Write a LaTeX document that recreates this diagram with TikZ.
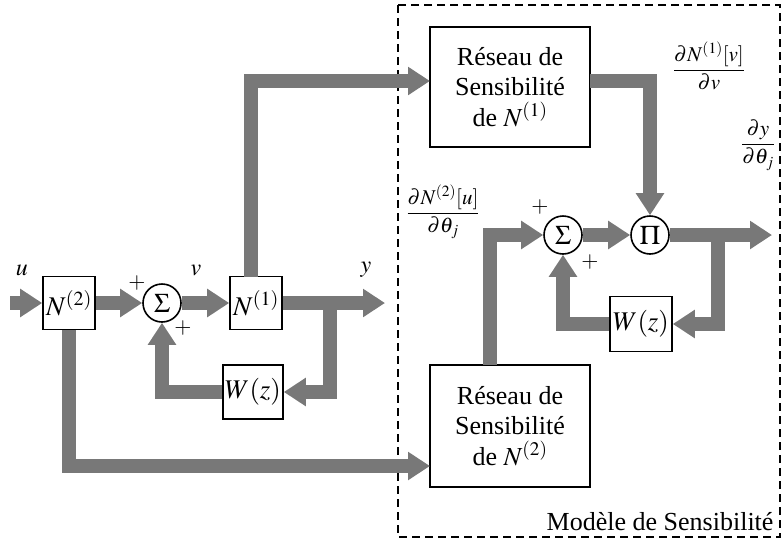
\documentclass[tikz,border=0pt]{standalone}
\usepackage{mathptmx}
\usepackage[no-math]{fontspec}
\setmainfont{Liberation Serif}
\usetikzlibrary{arrows.meta}
\definecolor{band}{RGB}{120,120,120}
\tikzset{
  blk/.style={draw, line width=1.6pt, minimum width=52pt, minimum height=53pt, inner sep=0pt, font=\fontsize{27}{28}\selectfont},
  sumnode/.style={draw, circle, line width=1.6pt, minimum size=38pt, inner sep=0pt, font=\fontsize{27}{28}\selectfont},
  bigblk/.style={draw, line width=1.6pt, minimum width=160pt, minimum height=120pt, inner sep=0pt, align=center, font=\fontsize{26}{30.5}\selectfont},
  flow/.style={draw=band, line width=14pt, line join=miter, -{Triangle[width=27pt,length=22pt]}},
  lbl/.style={font=\fontsize{24}{24}\selectfont},
  pls/.style={font=\fontsize{22}{22}\selectfont},
  frac/.style={font=\fontsize{21}{21}\selectfont},
}
\begin{document}
\begin{tikzpicture}[x=1pt,y=-1pt]
\useasboundingbox (0,0) rectangle (783,544);
% dashed frame
\draw[line width=2.4pt, dash pattern=on 8pt off 5pt] (398,5) rectangle (780,537);
% blocks
\node[blk] (N2) at (69,303) {$N^{(2)}$};
\node[sumnode] (S1) at (162,303) {$\Sigma$};
\node[blk] (N1) at (256,303) {$N^{(1)}$};
\node[blk, minimum width=60pt, minimum height=54pt] (W1) at (253,392) {$W(z)$};
\node[bigblk] (RN1) at (510,87) {Réseau de\\Sensibilité\\de $N^{(1)}$};
\node[bigblk, minimum height=122pt] (RN2) at (510,426) {Réseau de\\Sensibilité\\de $N^{(2)}$};
\node[sumnode] (S2) at (563,235) {$\Sigma$};
\node[sumnode] (P) at (650,235) {$\Pi$};
\node[blk, minimum width=62pt, minimum height=55pt] (W2) at (641,324) {$W(z)$};
% coordinates
\coordinate (in) at (10,303);
\coordinate (yo) at (385,303);
\coordinate (b1) at (330,303);
\coordinate (r2in) at (430,466);
\coordinate (n1t) at (251,277);
\coordinate (r1in) at (430,81);
\coordinate (r1out) at (590,81);
\coordinate (r2top) at (490,365);
\coordinate (zo) at (772,235);
\coordinate (b2) at (718,235);
% flows
\draw[flow] (in) -- (N2.west);
\draw[flow] (N2.east) -- (S1.west);
\draw[flow] (S1.east) -- (N1.west);
\draw[flow] (N1.east) -- (yo);
\draw[flow] (b1) |- (W1.east);
\draw[flow] (W1.west) -| (S1.south);
\draw[flow] (N2.south) |- (r2in);
\draw[flow] (n1t) |- (r1in);
\draw[flow] (r1out) -| (P.north);
\draw[flow] (r2top) |- (S2.west);
\draw[flow] (S2.east) -- (P.west);
\draw[flow] (P.east) -- (zo);
\draw[flow] (b2) |- (W2.east);
\draw[flow] (W2.west) -| (S2.south);
% labels
\node[lbl] (lu) at (22,270) {$u$};
\node[lbl] (lv) at (196,270) {$v$};
\node[lbl] (ly) at (366,270) {$y$};
\node[pls] (p1) at (137,283) {$+$};
\node[pls] (p2) at (183,328) {$+$};
\node[pls] (p3) at (540,207) {$+$};
\node[pls] (p4) at (590,262) {$+$};
\node[frac] (f1) at (709,66) {$\displaystyle\frac{\partial N^{(1)}[v]}{\partial v}$};
\node[frac] (f2) at (758,145) {$\displaystyle\frac{\partial y}{\partial\theta_j}$};
\node[frac] (f3) at (443,212) {$\displaystyle\frac{\partial N^{(2)}[u]}{\partial\theta_j}$};
\node[anchor=east, font=\fontsize{26}{26}\selectfont] (mod) at (777,522) {Modèle de Sensibilité};
\end{tikzpicture}
\end{document}
